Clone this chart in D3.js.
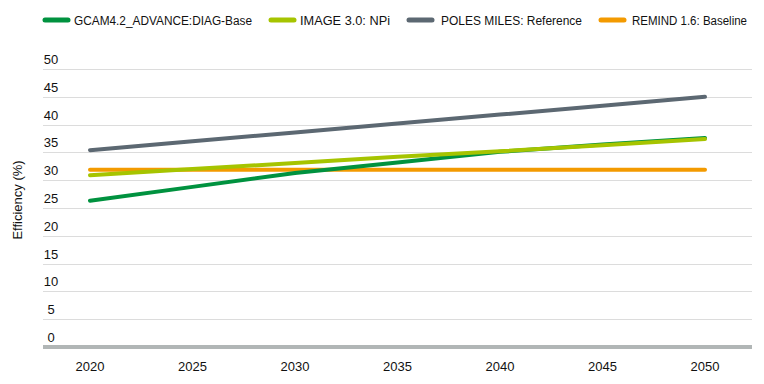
<!DOCTYPE html>
<html><head><meta charset="utf-8">
<script src="https://cdn.jsdelivr.net/npm/d3@7"></script>
<style>body{margin:0;background:#fff}svg{display:block}text{font-family:"Liberation Sans",Arial,sans-serif;fill:#111}</style>
</head><body><svg id="c" width="764" height="384"></svg>
<script>
const years = [2020, 2025, 2030, 2035, 2040, 2045, 2050];
const seriesNames = ["GCAM4.2_ADVANCE:DIAG-Base", "IMAGE 3.0: NPi", "POLES MILES: Reference", "REMIND 1.6: Baseline"];
const gcam = [26.3, 28.8, 31.3, 33.2, 35.1, 36.4, 37.6];
const image = [30.9, 32.0, 33.1, 34.2, 35.2, 36.3, 37.4];
const poles = [35.4, 37.0, 38.6, 40.2, 41.8, 43.4, 45.0];
const remind = [31.9, 31.9, 31.9, 31.9, 31.9, 31.9, 31.9];
const yTicks = [0, 5, 10, 15, 20, 25, 30, 35, 40, 45, 50];
const colors = ["#00923f", "#a6c400", "#5c6872", "#f39a00"];
const seriesVals = [gcam, image, poles, remind];

const svg = d3.select("#c");
const x = d3.scaleLinear().domain([2020, 2050]).range([90, 705]);
const y = d3.scaleLinear().domain([0, 50]).range([347, 69]);
const left = 43, right = 752;

svg.append("g").selectAll("line").data(yTicks.filter(d => d > 0)).join("line")
  .attr("x1", left).attr("x2", right)
  .attr("y1", d => Math.round(y(d)) + 0.5).attr("y2", d => Math.round(y(d)) + 0.5)
  .attr("stroke", "#dcdcdc").attr("stroke-width", 1);
svg.append("g").selectAll("text").data(yTicks).join("text")
  .attr("x", 51).attr("y", d => y(d) - 5)
  .attr("text-anchor", "middle").attr("font-size", 13).text(d => d);
svg.append("line").attr("x1", left).attr("x2", right).attr("y1", y(0)).attr("y2", y(0))
  .attr("stroke", "#b1b6b6").attr("stroke-width", 4);
svg.append("g").selectAll("text").data(years).join("text")
  .attr("x", d => x(d)).attr("y", 371).attr("text-anchor", "middle").attr("font-size", 13).text(d => d);
svg.append("text").attr("transform", "translate(22,200) rotate(-90)")
  .attr("text-anchor", "middle").attr("font-size", 13).text("Efficiency (%)");

const line = d3.line().x((d, i) => x(years[i])).y(d => y(d));
[2, 3, 0, 1].forEach(k => {
  svg.append("path").datum(seriesVals[k]).attr("d", line).attr("fill", "none")
    .attr("stroke", colors[k]).attr("stroke-width", 4).attr("stroke-linecap", "round");
});

const swX = [43, 269, 407, 599];
const txX = [74, 300, 441, 632];
const legW = [178, 90, 141, 115];
seriesNames.forEach((n, i) => {
  svg.append("line").attr("x1", swX[i] + 2).attr("x2", swX[i] + 25).attr("y1", 20).attr("y2", 20)
    .attr("stroke", colors[i]).attr("stroke-width", 5).attr("stroke-linecap", "round");
  svg.append("text").attr("x", txX[i]).attr("y", 24.5).attr("font-size", 12)
    .attr("textLength", legW[i]).attr("lengthAdjust", "spacingAndGlyphs").text(n);
});
</script></body></html>
